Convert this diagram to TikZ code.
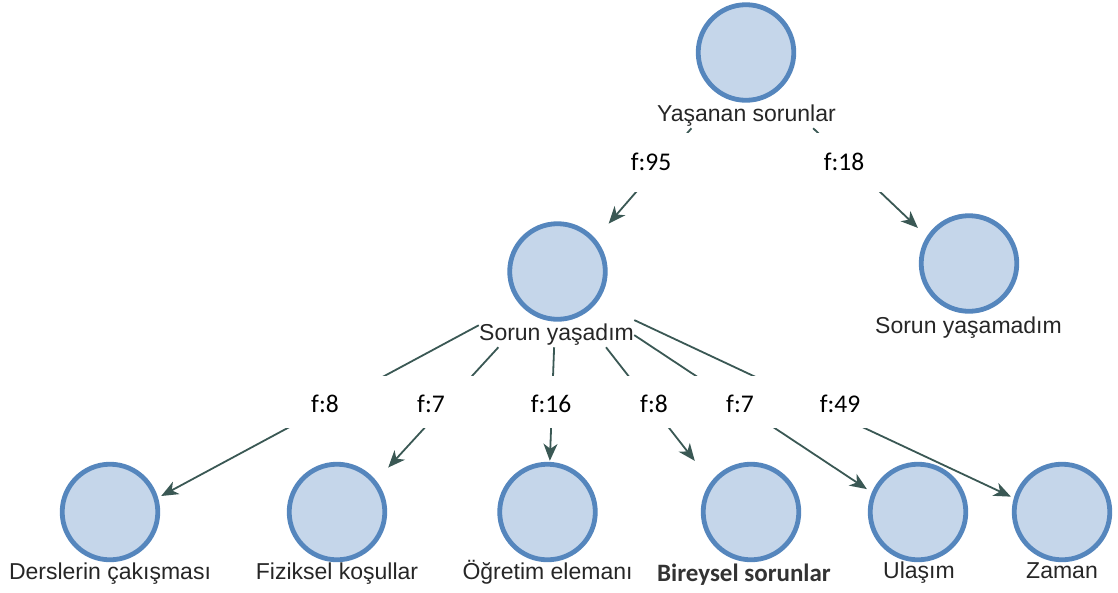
\documentclass[tikz,border=0pt]{standalone}
\usepackage{fontspec}
\setmainfont{Liberation Sans}
\newfontfamily\calib{Carlito}
\usetikzlibrary{arrows.meta,fit}
\definecolor{bubfill}{HTML}{C5D6EA}
\definecolor{bubline}{HTML}{5586BD}
\definecolor{edgecol}{HTML}{3A5854}
\definecolor{txt}{HTML}{262626}
\definecolor{boldtxt}{HTML}{333333}

\begin{document}
\begin{tikzpicture}[x=1pt,y=-1pt,
  bub/.style={rectangle, minimum size=102pt, inner sep=0pt,
    path picture={
      \fill[bubfill] (path picture bounding box.center) circle (48pt);
      \draw[bubline, line width=4.8pt] (path picture bounding box.center) circle (47.8pt);}},
  lbl/.style={anchor=base, inner xsep=0pt, inner ysep=2pt, text=txt,
    font=\fontsize{23}{26}\selectfont},
  lblbold/.style={lbl, text=boldtxt, font=\calib\bfseries\fontsize{25}{28}\selectfont},
  freq/.style={anchor=base, inner sep=0pt, text=black,
    font=\calib\fontsize{25.5}{28}\selectfont},
  grp/.style={inner sep=0pt},
  conn/.style={draw=edgecol, line width=1.8pt,
    -{Stealth[length=17pt,width=14pt,inset=5pt]}},
]
\useasboundingbox (0,0) rectangle (1118,592);

% root
\node[bub] (yc) at (746,52.5) {};
\node[lbl] (yl) at (746.5,121) {Yaşanan sorunlar};
\node[grp, fit=(yc)(yl)] (yg) {};

% second level
\node[bub] (sdc) at (557.5,271.5) {};
\node[lbl] (sdl) at (556.5,340) {Sorun yaşadım};
\node[grp, fit=(sdc)(sdl)] (sdg) {};

\node[bub] (smc) at (969,263.5) {};
\node[lbl] (sml) at (968.5,333) {Sorun yaşamadım};
\node[grp, fit=(smc)(sml)] (smg) {};

% leaves
\node[bub] (c1) at (110,512) {};
\node[lbl] (l1) at (110,579) {Derslerin çakışması};
\node[grp, fit=(c1)(l1)] (g1) {};

\node[bub] (c2) at (337,512) {};
\node[lbl] (l2) at (337,579) {Fiziksel koşullar};
\node[grp, fit=(c2)(l2)] (g2) {};

\node[bub] (c3) at (547.5,512) {};
\node[lbl] (l3) at (547.5,579) {Öğretim elemanı};
\node[grp, fit=(c3)(l3)] (g3) {};

\node[bub] (c4) at (751,512) {};
\node[lblbold] (l4) at (744,581) {Bireysel sorunlar};
\node[grp, fit=(c4)(l4)] (g4) {};

\node[bub] (c5) at (918,512) {};
\node[lbl] (l5) at (919,578) {Ulaşım};
\node[grp, fit=(c5)(l5)] (g5) {};

\node[bub] (c6) at (1062,512) {};
\node[lbl] (l6) at (1062,578) {Zaman};
\node[grp, fit=(c6)(l6)] (g6) {};

% connectors: from the parent group towards the child group, ending on the circle's frame
\draw[conn] (yg) -- (intersection of yg.center--sdg.center and sdc.north east--sdc.south east);
\draw[conn] (yg) -- (intersection of yg.center--smg.center and smc.north west--smc.south west);

\draw[conn] (sdg) -- (intersection of sdg.center--g1.center and c1.north east--c1.south east);
\draw[conn] (sdg) -- (intersection of sdg.center--g2.center and c2.north east--c2.south east);
\draw[conn] (sdg) -- (intersection of sdg.center--g3.center and c3.north west--c3.north east);
\draw[conn] (sdg) -- (intersection of sdg.center--g4.center and c4.north west--c4.north east);
\draw[conn] (sdg) -- (intersection of sdg.center--g5.center and c5.north west--c5.south west);
\draw[conn] (sdg) -- (intersection of sdg.center--g6.center and c6.north west--c6.south west);

% white strips behind the frequency labels
\fill[white] (600,133) rectangle (900,192);
\fill[white] (0,376) rectangle (1118,428);

% frequency labels
\node[freq] (f1) at (651,170) {f:95};
\node[freq] (f2) at (844,170) {f:18};
\node[freq] (f3) at (325,412) {f:8};
\node[freq] (f4) at (431,412) {f:7};
\node[freq] (f5) at (551,412) {f:16};
\node[freq] (f6) at (654,412) {f:8};
\node[freq] (f7) at (740,412) {f:7};
\node[freq] (f8) at (840,412) {f:49};
\end{tikzpicture}
\end{document}
